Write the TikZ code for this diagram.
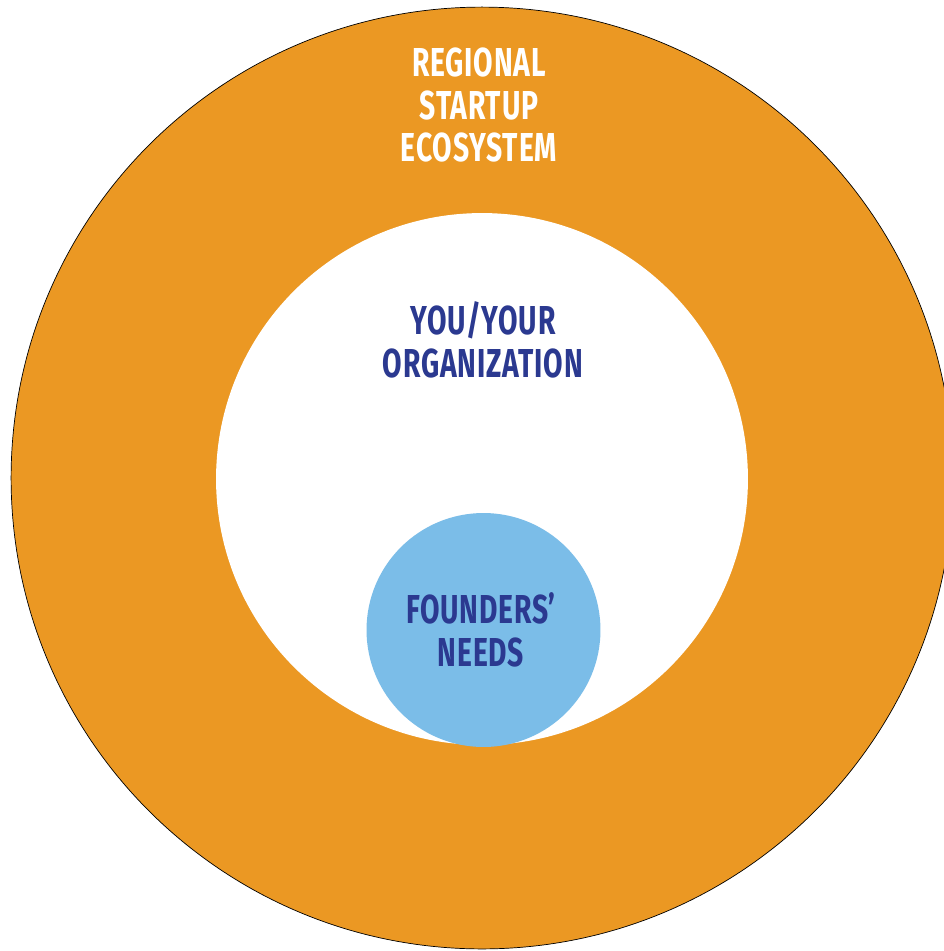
\documentclass[tikz,border=0pt]{standalone}
\usepackage{fontspec}
\usepackage{tikz}
\newfontfamily\ringfont{Fira Sans}[FakeStretch=0.70,LetterSpace=2]
\definecolor{ecoorange}{HTML}{EB9823}
\definecolor{founderblue}{HTML}{7BBDE8}
\definecolor{orgnavy}{HTML}{2B3990}
\tikzset{
  ring/.style={circle,inner sep=0},
  ringtext/.style={align=center,font=\ringfont\bfseries\fontsize{23}{24.4}\selectfont}
}
\begin{document}
\begin{tikzpicture}[x=0.02cm,y=-0.02cm]
        \useasboundingbox (0,0) rectangle (944,951);
        \node[ring,fill=ecoorange,draw=black,line width=0.4pt,minimum size=18.84cm] (eco) at (482,478) {};
        \node[ring,fill=white,minimum size=10.64cm] (org) at (482,479) {};
        \node[ring,fill=founderblue,minimum size=4.68cm] (need) at (483.5,630) {};
        \node[ringtext,text=white] (ecotext) at (479,105) {REGIONAL\\STARTUP\\ECOSYSTEM};
        \node[ringtext,text=orgnavy] (orgtext) at (483,340) {YOU/YOUR\\ORGANIZATION};
        \node[ringtext,text=orgnavy] (needtext) at (481,630) {FOUNDERS’\\NEEDS};
      \end{tikzpicture}
\end{document}
